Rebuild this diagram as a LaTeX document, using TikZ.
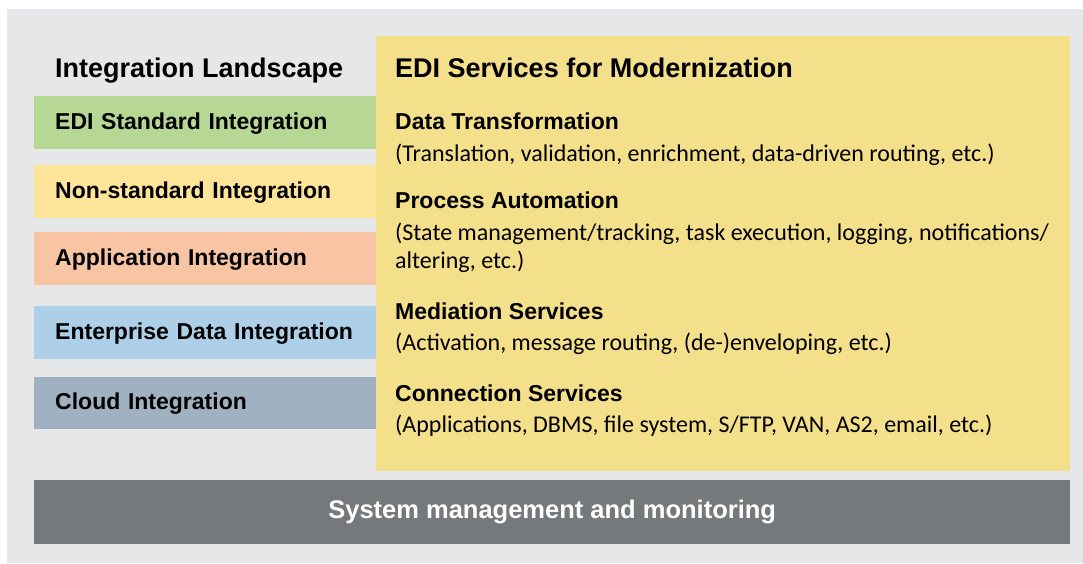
\documentclass[tikz,border=0pt]{standalone}
\usepackage{fontspec}
\setmainfont{Liberation Sans}
\newfontfamily\descfont{Carlito}
\usepackage{tikz}
\usetikzlibrary{positioning}
\definecolor{bggray}{HTML}{E6E7E9}
\definecolor{edigreen}{HTML}{B7D794}
\definecolor{nonstdyellow}{HTML}{FDE499}
\definecolor{apporange}{HTML}{F7C5A3}
\definecolor{entblue}{HTML}{ADD0E8}
\definecolor{cloudgray}{HTML}{A0B1C2}
\definecolor{panelyellow}{HTML}{F4E08A}
\definecolor{sysgray}{HTML}{76797B}
\tikzstyle{lbox}=[%
      rectangle, draw=none, minimum width=342pt, minimum height=53pt,
      text width=300pt, text height=16pt, text depth=2pt,
      inner xsep=21pt, inner ysep=0pt, align=left,
      font=\fontsize{23}{27}\selectfont\bfseries
]
\tikzstyle{headline}=[%
      anchor=base west, inner sep=0pt, font=\fontsize{27}{32}\selectfont\bfseries
]
\tikzstyle{subhead}=[%
      anchor=base west, inner sep=0pt, font=\fontsize{23}{27}\selectfont\bfseries
]
\tikzstyle{desc}=[%
      anchor=base west, inner sep=0pt, align=left, font=\descfont\fontsize{24}{28}\selectfont
]

\begin{document}
\begin{tikzpicture}[x=1pt, y=1pt]
    \useasboundingbox (0,0) rectangle (1083,-563);
    \fill[bggray] (7,-9) rectangle (1083,-563);

    % left column
    \node[headline] (landscape) at (55,-77) {Integration Landscape};
    \node[lbox, fill=edigreen, anchor=north west] (edi)   at (34,-96) {EDI Standard Integration};
    \node[lbox, fill=nonstdyellow] (nonstd) [below=15pt of edi]    {Non-standard Integration};
    \node[lbox, fill=apporange]    (app)    [below=14pt of nonstd] {Application Integration};
    \node[lbox, fill=entblue]      (ent)    [below=21pt of app]    {Enterprise Data Integration};
    \node[lbox, fill=cloudgray, minimum height=52pt] (cloud) [below=17pt of ent] {Cloud Integration};

    % services panel
    \node[fill=panelyellow, anchor=north west, minimum width=694pt, minimum height=435pt,
          inner sep=0pt] (panel) at (376,-36) {};
    \node[headline] (services) at (395,-77) {EDI Services for Modernization};
    \node[subhead] (transf)  at (395,-129) {Data Transformation};
    \node[desc]    (transfd) at (395,-161) {(Translation, validation, enrichment, data-driven routing, etc.)};
    \node[subhead] (proc)    at (395,-208) {Process Automation};
    % base of a two-line node = last line
    \node[desc]    (procd)   at (395,-268) {(State management/tracking, task execution, logging, notifications/\\altering, etc.)};
    \node[subhead] (med)     at (395,-319) {Mediation Services};
    \node[desc]    (medd)    at (395,-350) {(Activation, message routing, (de-)enveloping, etc.)};
    \node[subhead] (conn)    at (395,-401) {Connection Services};
    \node[desc]    (connd)   at (395,-432) {(Applications, DBMS, file system, S/FTP, VAN, AS2, email, etc.)};

    % bottom bar
    \node[fill=sysgray, anchor=north west, minimum width=1036pt, minimum height=64pt,
          text=white, font=\fontsize{25.5}{30}\selectfont\bfseries] (sysmgmt) at (34,-480)
          {System management and monitoring};
\end{tikzpicture}
\end{document}
